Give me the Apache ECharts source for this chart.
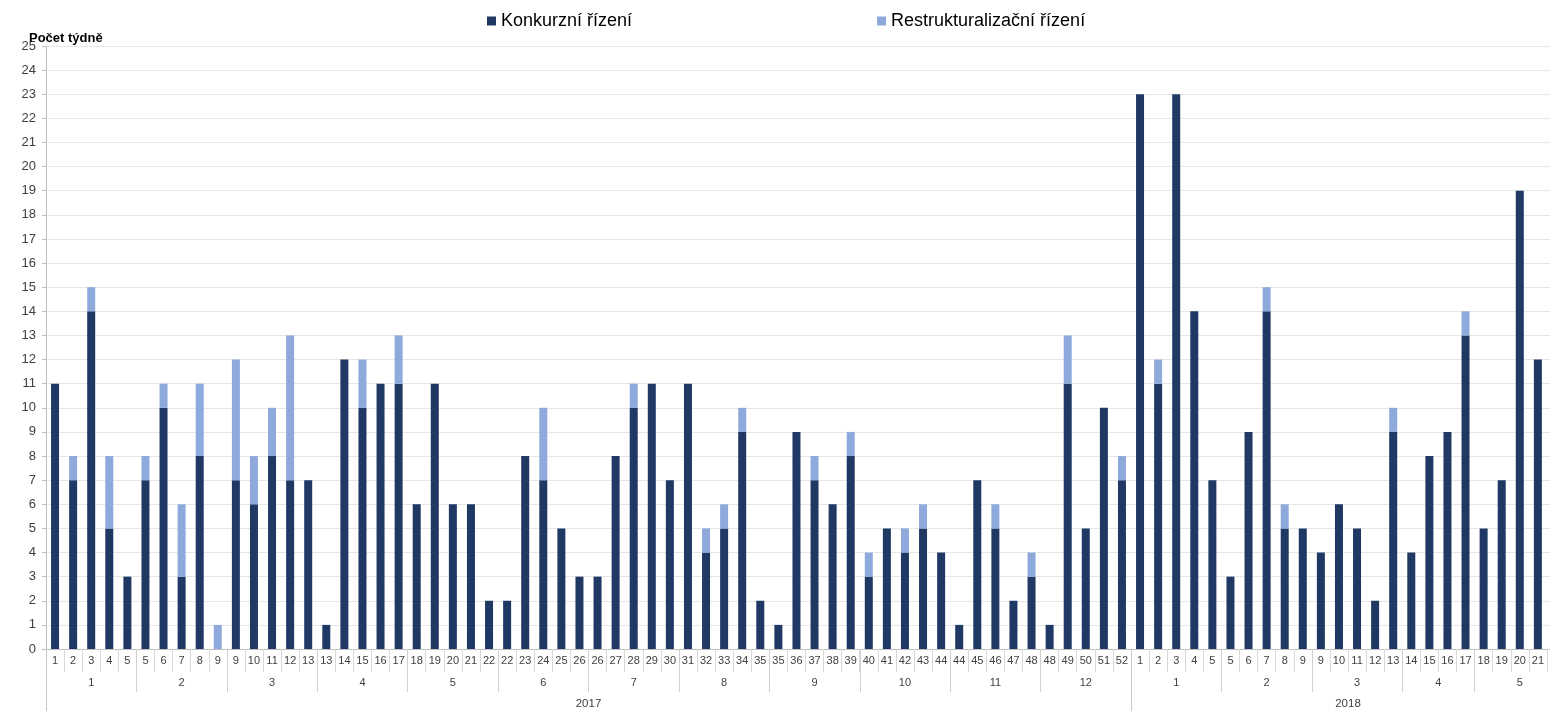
<!DOCTYPE html>
<html>
<head>
<meta charset="utf-8">
<script src="https://cdn.jsdelivr.net/npm/echarts@6/dist/echarts.min.js"></script>
<style>
  html, body { margin: 0; padding: 0; background: #fff; overflow: hidden; }
  #chart { width: 1568px; height: 711px; }
</style>
</head>
<body>
<div id="chart"></div>
<script>
// ---- Data ----
const seriesNames = ['Konkurzní řízení', 'Restrukturalizační řízení'];
const yAxisTitle = 'Počet týdně';

const weekLabels = [
  1,2,3,4,5, 5,6,7,8,9, 9,10,11,12,13, 13,14,15,16,17, 18,19,20,21,22, 22,23,24,25,26,
  26,27,28,29,30, 31,32,33,34,35, 35,36,37,38,39, 40,41,42,43,44, 44,45,46,47,48, 48,49,50,51,52,
  1,2,3,4,5, 5,6,7,8,9, 9,10,11,12,13, 14,15,16,17, 18,19,20,21,22
];
const monthLabels = ['1','2','3','4','5','6','7','8','9','10','11','12','1','2','3','4','5'];
const monthWeekCounts = [5,5,5,5,5,5,5,5,5,5,5,5,5,5,5,4,5];
const yearLabels = ['2017', '2018'];
const yearMonthCounts = [12, 5];

const konkurzni = [
  11,7,14,5,3, 7,10,3,8,0, 7,6,8,7,7, 1,12,10,11,11, 6,11,6,6,2, 2,8,7,5,3,
  3,8,10,11,7, 11,4,5,9,2, 1,9,7,6,8, 3,5,4,5,4, 1,7,5,2,3, 1,11,5,10,7,
  23,11,23,14,7, 3,9,14,5,5, 4,6,5,2,9, 4,8,9,13, 5,7,19,12,5
];
const restrukturalizacni = [
  0,1,1,3,0, 1,1,3,3,1, 5,2,2,6,0, 0,0,2,0,2, 0,0,0,0,0, 0,0,3,0,0,
  0,0,1,0,0, 0,1,1,1,0, 0,0,1,0,1, 1,0,1,1,0, 0,0,1,0,1, 0,2,0,0,1,
  0,1,0,0,0, 0,0,1,1,0, 0,0,0,0,1, 0,0,0,1, 0,0,0,0,0
];

// ---- Build hierarchical axis helpers (half-week positions) ----
const nWeeks = weekLabels.length;
const nPts = nWeeks * 2 + 1;
const monthPts = new Array(nPts).fill('');
const monthBounds = new Set();
const yearPts = new Array(nPts).fill('');
const yearBounds = new Set();
let w = 0;
const monthStartWeek = [];
monthWeekCounts.forEach((c, m) => {
  monthStartWeek.push(w);
  monthBounds.add(2 * w);
  monthPts[2 * w + c] = monthLabels[m];
  w += c;
});
monthBounds.add(2 * w);
let mIdx = 0;
yearMonthCounts.forEach((mc, y) => {
  const startW = monthStartWeek[mIdx];
  let span = 0;
  for (let k = 0; k < mc; k++) span += monthWeekCounts[mIdx + k];
  yearBounds.add(2 * startW);
  yearPts[2 * startW + span] = yearLabels[y];
  mIdx += mc;
});
yearBounds.add(2 * w);

const FONT = "'Liberation Sans', Arial, sans-serif";
const chart = echarts.init(document.getElementById('chart'), null, { renderer: 'canvas' });
chart.setOption({
  animation: false,
  backgroundColor: '#ffffff',
  textStyle: { fontFamily: FONT },
  title: {
    text: yAxisTitle,
    left: 24, top: 27,
    textStyle: { fontSize: 13, fontWeight: 'bold', color: '#000', fontFamily: FONT }
  },
  legend: {
    data: seriesNames,
    left: 482, top: 7,
    itemGap: 245,
    itemWidth: 9, itemHeight: 9,
    icon: 'rect',
    textStyle: { fontSize: 18, color: '#000', fontFamily: FONT }
  },
  grid: { left: 46, right: 0, top: 46, bottom: 62, containLabel: false },
  xAxis: [
    {
      type: 'category', data: weekLabels.map(String), position: 'bottom', boundaryGap: true,
      axisLine: { show: true, lineStyle: { color: '#bfbfbf' } },
      axisTick: { show: true, interval: 0, length: 23, lineStyle: { color: '#d9d9d9' } },
      axisLabel: { interval: 0, margin: 6, fontSize: 11, color: '#404040', fontFamily: FONT },
      splitLine: { show: false }
    },
    {
      type: 'category', data: monthPts, position: 'bottom', boundaryGap: false,
      axisLine: { show: false },
      axisTick: { show: true, interval: (i) => monthBounds.has(i), length: 43, lineStyle: { color: '#d0d0d0' } },
      axisLabel: { interval: 0, margin: 28, fontSize: 11, color: '#404040', fontFamily: FONT },
      splitLine: { show: false }
    },
    {
      type: 'category', data: yearPts, position: 'bottom', boundaryGap: false,
      axisLine: { show: false },
      axisTick: { show: true, interval: (i) => yearBounds.has(i), length: 62, lineStyle: { color: '#c8c8c8' } },
      axisLabel: { interval: 0, margin: 49, fontSize: 11.5, color: '#404040', fontFamily: FONT },
      splitLine: { show: false }
    }
  ],
  yAxis: {
    type: 'value', min: 0, max: 25, interval: 1,
    axisLine: { show: true, lineStyle: { color: '#bfbfbf' } },
    axisTick: { show: true, length: 4, lineStyle: { color: '#bfbfbf' } },
    axisLabel: { margin: 10, fontSize: 13, color: '#404040', fontFamily: FONT },
    splitLine: { show: true, lineStyle: { color: '#e6e6e6' } }
  },
  series: [
    {
      name: seriesNames[0], type: 'bar', stack: 'total', xAxisIndex: 0,
      data: konkurzni, barWidth: 8,
      itemStyle: { color: '#203864' }
    },
    {
      name: seriesNames[1], type: 'bar', stack: 'total', xAxisIndex: 0,
      data: restrukturalizacni, barWidth: 8,
      itemStyle: { color: '#8eaadc' }
    }
  ]
});
</script>
</body>
</html>
